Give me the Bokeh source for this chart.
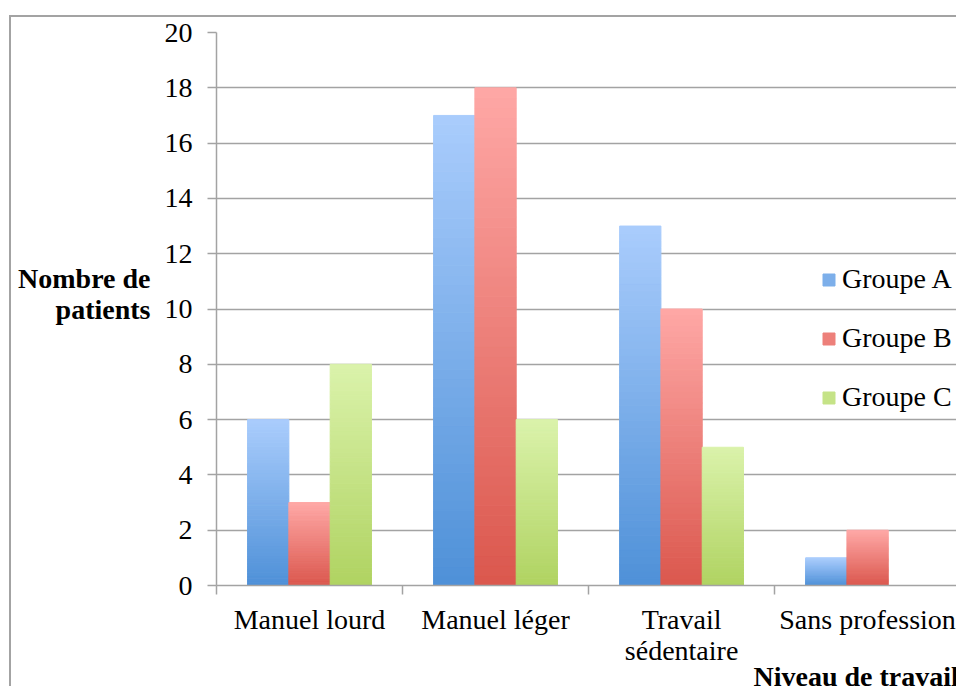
from bokeh.plotting import figure
from bokeh.models import Range1d, FixedTicker, ColumnDataSource, Legend, LegendItem, Title
from bokeh.embed import file_html
from bokeh.resources import INLINE

# ---- data ----
categories = ["Manuel lourd", "Manuel léger", "Travail\nsédentaire", "Sans profession"]
groups = ["Groupe A", "Groupe B", "Groupe C"]
groupe_a = [6, 17, 13, 1]
groupe_b = [3, 18, 10, 2]
groupe_c = [8, 6, 5, 0]
y_ticks = [0, 2, 4, 6, 8, 10, 12, 14, 16, 18, 20]
y_title = "Nombre de\npatients\n "
x_title = "Niveau de travail"

# ---- style ----
FONT = "Liberation Serif"
FS = "28px"
GRAY = "#a3a3a3"
colors_top = ["#a9ccfc", "#fea7a5", "#daf2aa"]
colors_bot = ["#4f91d8", "#db584e", "#b0d362"]
offsets = [-0.222, 0.0, 0.222]
BAR_W = 0.222
N = 50


def lerp(c1, c2, t):
    a = [int(c1[i:i + 2], 16) for i in (1, 3, 5)]
    b = [int(c2[i:i + 2], 16) for i in (1, 3, 5)]
    return "#%02x%02x%02x" % tuple(round(a[k] + (b[k] - a[k]) * t) for k in range(3))


p = figure(width=956, height=686, output_backend="svg", toolbar_location=None,
           x_range=Range1d(0, 3.978), y_range=Range1d(0, 20),
           min_border_left=216, min_border_right=0, min_border_top=32, min_border_bottom=101)
p.outline_line_color = None
p.background_fill_color = "white"
p.border_fill_color = None
# outer chart-area border (left and top edges visible in the window)
p.styles = {"box-shadow": "inset 9px 15px 0 0 white, inset 11px 17px 0 0 %s" % GRAY,
            "background-color": "white"}

series = [groupe_a, groupe_b, groupe_c]
items = []
for g, vals in enumerate(series):
    xs, bots, tops, cols = [], [], [], []
    for c, v in enumerate(vals):
        if v <= 0:
            continue
        for i in range(N):
            xs.append(c + 0.5 + offsets[g])
            bots.append(v * i / N)
            tops.append(v * (i + 1) / N)
            cols.append(lerp(colors_bot[g], colors_top[g], i / (N - 1)))
    src = ColumnDataSource(dict(x=xs, bottom=bots, top=tops, color=cols))
    r = p.vbar(x="x", bottom="bottom", top="top", width=BAR_W, source=src,
               fill_color="color", line_color="color", line_width=1)
    items.append(LegendItem(label=groups[g], renderers=[r], index=N // 2))

legend = Legend(items=items, location=(605, 172), orientation="vertical",
                glyph_width=15, glyph_height=15, label_height=32, spacing=27,
                label_standoff=6, padding=0, margin=0,
                border_line_color=None, background_fill_alpha=0,
                label_text_font=FONT, label_text_font_size=FS, label_text_color="black")
p.add_layout(legend, "center")

# axes
p.yaxis.ticker = FixedTicker(ticks=y_ticks)
p.yaxis.axis_line_color = GRAY
p.yaxis.axis_line_width = 1.5
p.yaxis.major_tick_line_color = GRAY
p.yaxis.major_tick_line_width = 1.5
p.yaxis.major_tick_out = 9
p.yaxis.major_tick_in = 0
p.yaxis.minor_tick_line_color = None
p.yaxis.major_label_standoff = 15
p.yaxis.major_label_text_font = FONT
p.yaxis.major_label_text_font_size = FS
p.yaxis.major_label_text_color = "black"
p.yaxis.axis_label = y_title
p.yaxis.axis_label_orientation = "horizontal"
p.yaxis.axis_label_text_align = "center"
p.yaxis.axis_label_standoff = 11
p.yaxis.axis_label_text_font = FONT
p.yaxis.axis_label_text_font_size = FS
p.yaxis.axis_label_text_font_style = "bold"
p.yaxis.axis_label_text_color = "black"
p.yaxis.axis_label_text_line_height = 1.0

cat_pos = [i + 0.5 for i in range(len(categories))]
p.xaxis.ticker = FixedTicker(ticks=cat_pos, minor_ticks=[float(i) for i in range(len(categories) + 1)])
p.xaxis.major_label_overrides = {pos: lab for pos, lab in zip(cat_pos, categories)}
p.xaxis.axis_line_color = GRAY
p.xaxis.axis_line_width = 1.5
p.xaxis.major_tick_line_color = None
p.xaxis.minor_tick_line_color = GRAY
p.xaxis.minor_tick_line_width = 1.5
p.xaxis.minor_tick_out = 9
p.xaxis.minor_tick_in = 0
p.xaxis.major_label_standoff = 9
p.xaxis.major_label_text_font = FONT
p.xaxis.major_label_text_font_size = FS
p.xaxis.major_label_text_color = "black"
p.xaxis.major_label_text_line_height = 1.0

p.xgrid.grid_line_color = None
p.ygrid.ticker = FixedTicker(ticks=y_ticks)
p.ygrid.grid_line_color = GRAY
p.ygrid.grid_line_width = 1.5

p.add_layout(Title(text=x_title, align="left", offset=537, standoff=-19,
                   text_font=FONT, text_font_size=FS, text_font_style="bold",
                   text_color="black"), "below")

open("out.html", "w").write(file_html(p, INLINE))
